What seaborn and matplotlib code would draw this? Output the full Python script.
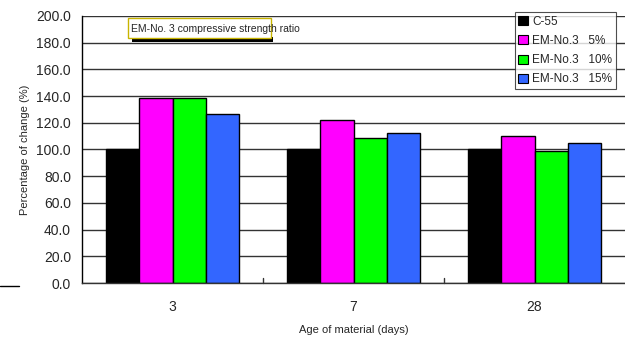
import matplotlib
matplotlib.use("Agg")
import matplotlib.pyplot as plt
import matplotlib.lines as mlines
import matplotlib.patches as mpatches
import seaborn as sns
import pandas as pd

ages = ["3", "7", "28"]
series = ["C-55", "EM-No.3   5%", "EM-No.3   10%", "EM-No.3   15%"]
c55 = [100.0, 100.0, 100.0]
em5 = [138.6, 122.0, 110.0]
em10 = [138.6, 108.6, 98.9]
em15 = [126.5, 112.4, 104.9]
colors = ["#000000", "#FF00FF", "#00FF00", "#3366FF"]

rows = []
for name, vals in zip(series, [c55, em5, em10, em15]):
    for a, v in zip(ages, vals):
        rows.append({"age": a, "series": name, "value": v})
df = pd.DataFrame(rows)

sns.set_theme(style="white")
plt.rcParams["font.family"] = ["Liberation Sans", "DejaVu Sans"]

fig = plt.figure(figsize=(6.25, 3.38), dpi=100)
ax = fig.add_axes([0.1312, 0.1627, 0.8688, 0.79])

sns.barplot(data=df, x="age", y="value", hue="series", order=ages,
            hue_order=series, palette=colors, width=0.73, gap=0,
            edgecolor="black", linewidth=1.0, saturation=1, ax=ax,
            legend=True)

ax.set_ylim(0, 200)
ax.set_xlim(-0.5, 2.5)
ax.set_yticks(range(0, 201, 20))
ax.set_yticklabels([f"{v:.1f}" for v in range(0, 201, 20)], fontsize=10)
ax.tick_params(axis="y", length=0, pad=8)
ax.tick_params(axis="x", length=0, pad=12, labelsize=10)
ax.yaxis.grid(True, color="#333333", linewidth=1.0)
ax.set_axisbelow(True)

for s in ["top", "right"]:
    ax.spines[s].set_visible(False)
ax.spines["left"].set_color("black")
ax.spines["left"].set_linewidth(1.0)
ax.spines["bottom"].set_color("#333333")
ax.spines["bottom"].set_linewidth(1.0)

# category divider ticks on the baseline
for xb in [0.5, 1.5]:
    ax.plot([xb, xb], [0, 4], color="#333333", lw=1, clip_on=False)

ax.set_xlabel("Age of material (days)", fontsize=8, labelpad=8)
ax.set_ylabel("Percentage of change (%)", fontsize=8, labelpad=4)

# legend box at the upper right
handles = [mpatches.Patch(facecolor=c, edgecolor="black", linewidth=0.8) for c in colors]
leg = ax.legend(handles, series, loc="upper right", bbox_to_anchor=(616 / 625, 1 - 12 / 338),
                bbox_transform=fig.transFigure, fontsize=8.5, frameon=True,
                fancybox=False, handlelength=0.8, handleheight=0.8,
                handletextpad=0.4, labelspacing=0.62, borderpad=0.3,
                borderaxespad=0)
leg.get_frame().set_edgecolor("#222222")
leg.get_frame().set_linewidth(0.8)

# caption box with drop shadow
fig.patches.append(mpatches.Rectangle((132 / 625, 1 - 42 / 338), 141 / 625, 5 / 338,
                                      transform=fig.transFigure, facecolor="black",
                                      edgecolor="none", zorder=5))
fig.patches.append(mpatches.Rectangle((128 / 625, 1 - 38 / 338), 143 / 625, 20 / 338,
                                      transform=fig.transFigure, facecolor="white",
                                      edgecolor="#c8b400", linewidth=1.0, zorder=5))
fig.text(131 / 625, 1 - 29 / 338, "EM-No. 3 compressive strength ratio",
         fontsize=7.5, va="center", ha="left", zorder=6)

fig.add_artist(mlines.Line2D([0, 19 / 625], [1 - 286 / 338, 1 - 286 / 338],
                             color="black", lw=1.0))

fig.savefig("out.png", dpi=100)
